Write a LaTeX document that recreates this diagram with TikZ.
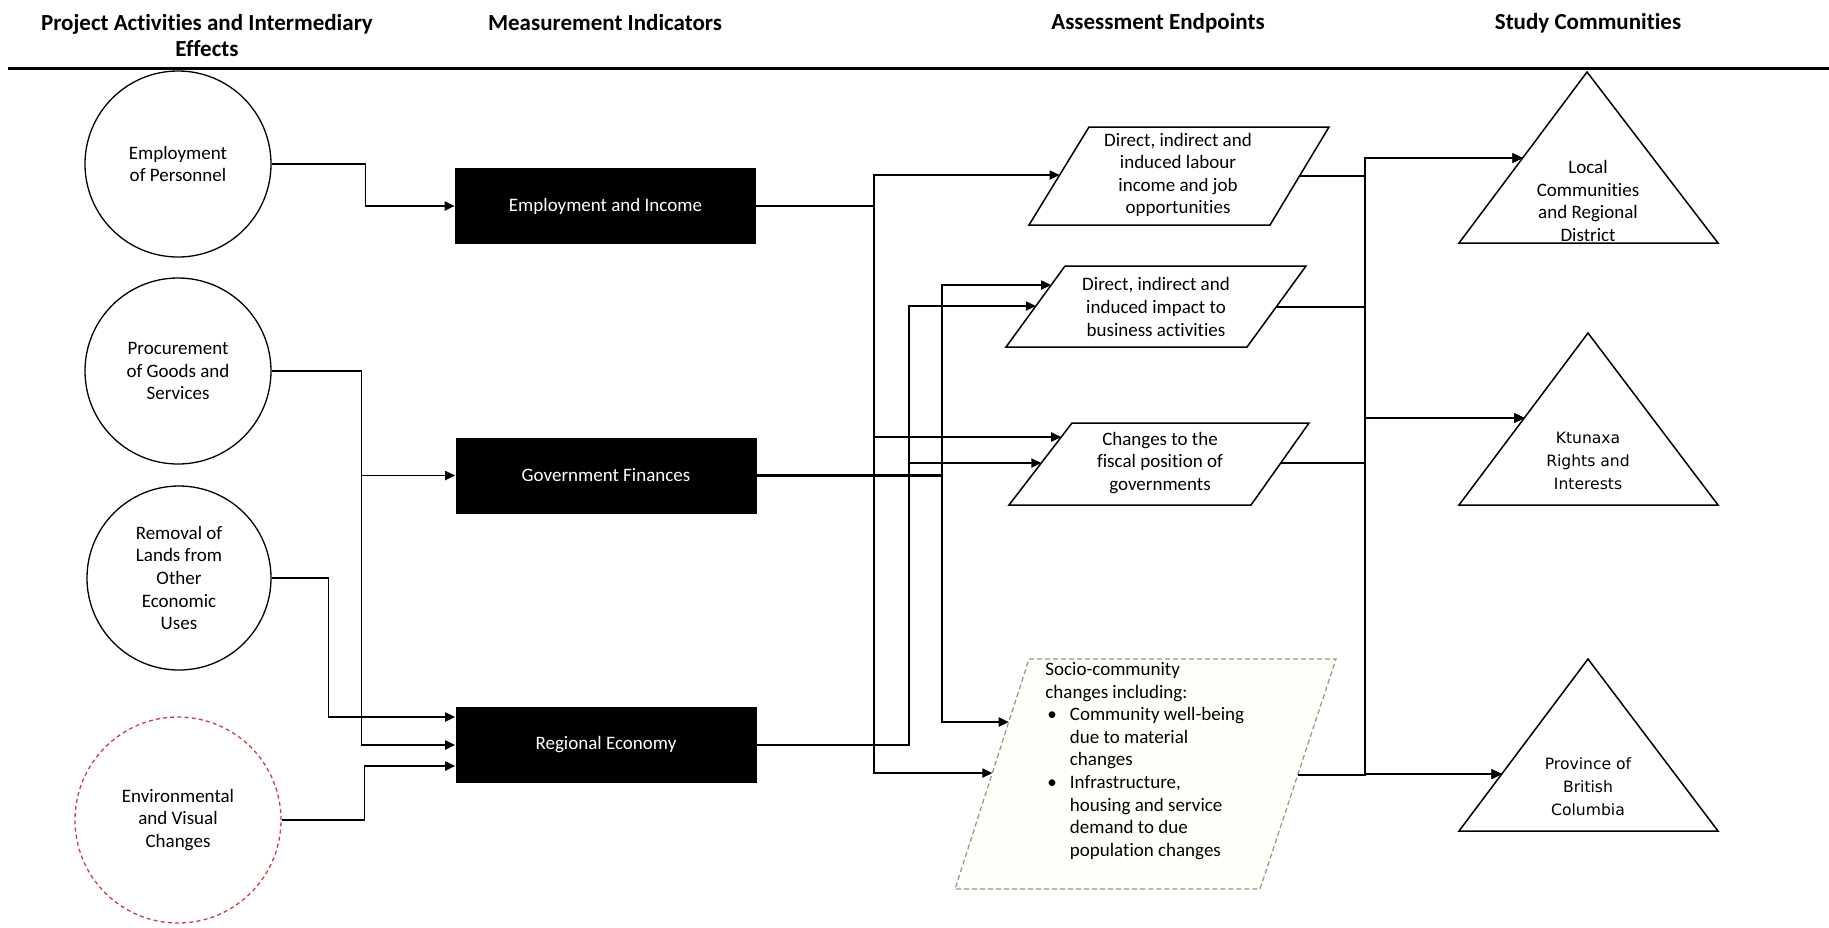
\documentclass[tikz,border=0pt]{standalone}
\usepackage{fontspec}
\setmainfont{Carlito}[Ligatures=NoCommon]
\newfontfamily\dejavu{DejaVu Sans}
\usetikzlibrary{arrows.meta,calc}
\definecolor{envred}{RGB}{205,60,70}
\definecolor{socioline}{RGB}{150,150,120}
\definecolor{sociofill}{RGB}{255,255,250}
\begin{document}
\begin{tikzpicture}[x=0.5pt,y=-0.5pt,
  hdr/.style={font=\fontsize{11.5pt}{13pt}\selectfont\bfseries, align=center, inner sep=0pt},
  act/.style={circle, draw, line width=0.65pt, minimum size=93pt, inner sep=0pt, align=center, font=\fontsize{9.5pt}{11.3pt}\selectfont},
  ind/.style={rectangle, fill=black, text=white, minimum width=150.5pt, minimum height=38pt, inner sep=0pt, font=\fontsize{9.5pt}{11.3pt}\selectfont},
  etext/.style={align=center, inner sep=0pt, font=\fontsize{9.5pt}{11.3pt}\selectfont},
  ctext/.style={align=center, inner sep=0pt, font=\dejavu\fontsize{7.8pt}{11.5pt}\selectfont},
  outline/.style={line width=0.75pt, line join=miter},
  conn/.style={line width=0.75pt},
  arr/.style={conn, -{Triangle[length=5pt,width=4.6pt]}},
  heavyln/.style={line width=1.2pt}
]
\useasboundingbox (0,0) rectangle (1829,927);

% headers
\node[hdr] (h1) at (207,36) {Project Activities and Intermediary\\Effects};
\node[hdr] (h2) at (605,23) {Measurement Indicators};
\node[hdr] (h3) at (1158,23) {Assessment Endpoints};
\node[hdr] (h4) at (1588,23) {Study Communities};
\draw[line width=1.5pt] (8,68) -- (1829,68);

% project activities
\node[act] (c1) at (178,164) {Employment\\of Personnel};
\node[act] (c2) at (178,371) {Procurement\\of Goods and\\Services};
\node[act, minimum size=92pt] (c3) at (179,578) {Removal of\\Lands from\\Other\\Economic\\Uses};
\node[act, draw=envred, dash pattern=on 2pt off 1.6pt, minimum size=103pt] (c4) at (178,820) {Environmental\\and Visual\\Changes};

% measurement indicators
\node[ind] (b1) at (605.5,206) {Employment and Income};
\node[ind] (b2) at (606,475.5) {Government Finances};
\node[ind] (b3) at (606,745) {Regional Economy};

% assessment endpoints
\draw[outline] (1089,127) coordinate (p1tl) -- (1329,127) coordinate (p1tr) -- (1270,225) coordinate (p1br) -- (1029,225) coordinate (p1bl) -- cycle;
\node[etext] (p1) at (1178,175) {Direct, indirect and\\induced labour\\income and job\\opportunities};
\draw[outline] (1065,266) coordinate (p2tl) -- (1306,266) coordinate (p2tr) -- (1247,347) coordinate (p2br) -- (1006,347) coordinate (p2bl) -- cycle;
\node[etext] (p2) at (1156,307) {Direct, indirect and\\induced impact to\\business activities};
\draw[outline] (1072,423) coordinate (p3tl) -- (1309,423) coordinate (p3tr) -- (1251,505) coordinate (p3br) -- (1009,505) coordinate (p3bl) -- cycle;
\node[etext] (p3) at (1160,463) {Changes to the\\fiscal position of\\governments};
\draw[line width=0.6pt, draw=socioline, fill=sociofill, dash pattern=on 2.5pt off 1.5pt] (1029,659) coordinate (p4tl) -- (1336,659) coordinate (p4tr) -- (1260,889) coordinate (p4br) -- (955,889) coordinate (p4bl) -- cycle;
\node[anchor=north west, inner sep=0pt, align=left, font=\fontsize{9.5pt}{11.3pt}\selectfont] (p4) at (1045,662) {Socio-community\\changes including:\\\makebox[12.25pt][l]{\hspace*{1pt}•}Community well-being\\\hspace*{12.25pt}due to material\\\hspace*{12.25pt}changes\\\makebox[12.25pt][l]{\hspace*{1pt}•}Infrastructure,\\\hspace*{12.25pt}housing and service\\\hspace*{12.25pt}demand to due\\\hspace*{12.25pt}population changes};

% study communities
\draw[outline] (1587,72) coordinate (t1top) -- (1718,243) coordinate (t1br) -- (1459,243) coordinate (t1bl) -- cycle;
\node[etext] (t1) at (1588,201) {Local\\Communities\\and Regional\\District};
\draw[outline] (1588,333) coordinate (t2top) -- (1718,505) coordinate (t2br) -- (1459,505) coordinate (t2bl) -- cycle;
\node[ctext] (t2) at (1588,461) {Ktunaxa\\Rights and\\Interests};
\draw[outline] (1588,659) coordinate (t3top) -- (1718,831) coordinate (t3br) -- (1459,831) coordinate (t3bl) -- cycle;
\node[ctext] (t3) at (1588,787) {Province of\\British\\Columbia};

% connection points on the shapes
\coordinate (p1in) at ($(p1bl)!0.51!(p1tl)$);
\coordinate (p1out) at ($(p1br)!0.50!(p1tr)$);
\coordinate (p2a) at ($(p2bl)!0.765!(p2tl)$);
\coordinate (p2b) at ($(p2bl)!0.506!(p2tl)$);
\coordinate (p2out) at ($(p2br)!0.494!(p2tr)$);
\coordinate (p3a) at ($(p3bl)!0.829!(p3tl)$);
\coordinate (p3b) at ($(p3bl)!0.512!(p3tl)$);
\coordinate (p3out) at ($(p3br)!0.512!(p3tr)$);
\coordinate (p4a) at ($(p4bl)!0.726!(p4tl)$);
\coordinate (p4b) at ($(p4bl)!0.504!(p4tl)$);
\coordinate (p4out) at ($(p4br)!0.496!(p4tr)$);
\coordinate (t1in) at ($(t1bl)!0.497!(t1top)$);
\coordinate (t2in) at ($(t2bl)!0.506!(t2top)$);
\coordinate (t3in) at ($(t3bl)!0.331!(t3top)$);

\coordinate (busA) at (874,0);
\coordinate (busB) at (909,0);
\coordinate (busC) at (942,0);
\coordinate (busD) at (1365,0);

% activities -> indicators
\draw[arr] (c1.east) -- ++(94,0) |- (b1.west);
\draw[arr] (c2.east) -- ++(90,0) |- (b2.west);
\draw[arr] (c2.east) -- ++(90,0) |- (b3.west);
\draw[arr] (c3.east) -- ++(57,0) |- ($(b3.west)+(0,-28)$);
\draw[arr] (c4.east) -- ++(83,0) |- ($(b3.west)+(0,21)$);

% indicators -> endpoints
\draw[arr] (b1.east) -| (busA |- p1in) -- (p1in);
\draw[arr] (b1.east) -| (busA |- p3a) -- (p3a);
\draw[arr] (b1.east) -| (busA |- p4b) -- (p4b);
\draw[arr] (b2.east) -| (busC |- p2a) -- (p2a);
\draw[arr] (b2.east) -| (busC |- p4a) -- (p4a);
\draw[arr] (b3.east) -| (busB |- p2b) -- (p2b);
\draw[arr] (b3.east) -| (busB |- p3b) -- (p3b);
\draw[heavyln] (b2.east) -- (busC |- b2.east);
\draw[heavyln] (b3.east) -- (busB |- b3.east);

% endpoints -> communities
\foreach \p in {p1out,p2out,p3out,p4out}{
  \foreach \t in {t1in,t2in,t3in}{
    \draw[arr] (\p) -| (busD |- \t) -- (\t);
  }
}
\draw[heavyln] (p2out) -- (busD |- p2out);
\end{tikzpicture}
\end{document}
